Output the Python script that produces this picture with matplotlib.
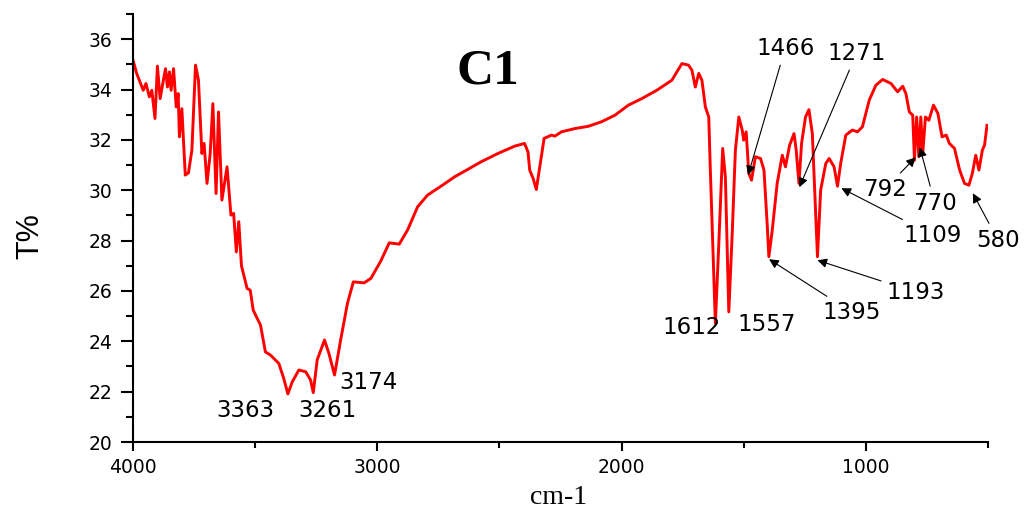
import numpy as np
import matplotlib
matplotlib.use("Agg")
import matplotlib.pyplot as plt
from matplotlib.ticker import MultipleLocator

# FTIR spectrum of C1 (wavenumber cm-1, T %)
wavenumber = [4000, 3985, 3958, 3947, 3933, 3923, 3910, 3900, 3889, 3878,
              3867, 3859, 3851, 3844, 3834, 3823, 3815, 3810, 3800, 3786,
              3773, 3759, 3744, 3732, 3718, 3709, 3697, 3684, 3673, 3660,
              3650, 3636, 3615, 3599, 3588, 3577, 3567, 3556, 3533, 3520,
              3508, 3478, 3458, 3437, 3403, 3383, 3366, 3348, 3321, 3293,
              3273, 3262, 3246, 3216, 3198, 3175, 3150, 3122, 3098, 3054,
              3026, 2985, 2951, 2910, 2876, 2835, 2794, 2739, 2684, 2629,
              2575, 2506, 2438, 2397, 2383, 2376, 2362, 2349, 2335, 2317,
              2287, 2273, 2246, 2191, 2136, 2082, 2027, 1972, 1917, 1856,
              1794, 1753, 1726, 1712, 1698, 1684, 1671, 1657, 1643, 1637,
              1616, 1603, 1586, 1575, 1561, 1547, 1534, 1520, 1506, 1500,
              1490, 1479, 1468, 1452, 1431, 1417, 1404, 1397, 1383, 1363,
              1342, 1329, 1312, 1294, 1285, 1274, 1263, 1247, 1233, 1219,
              1198, 1185, 1164, 1150, 1130, 1116, 1103, 1082, 1055, 1034,
              1014, 986, 959, 931, 897, 870, 849, 836, 822, 808,
              801, 792, 783, 775, 767, 756, 742, 723, 705, 688,
              671, 658, 637, 616, 596, 578, 564, 550, 537, 523,
              514, 504]
transmittance = [35.17, 34.64, 33.97, 34.24, 33.71, 33.97, 32.85, 34.93, 33.64, 34.24,
                 34.83, 34.10, 34.70, 33.97, 34.83, 33.31, 33.84, 32.12, 33.24, 30.60,
                 30.69, 31.59, 34.97, 34.37, 31.46, 31.86, 30.27, 31.46, 33.44, 29.87,
                 33.11, 29.61, 30.93, 29.01, 29.08, 27.55, 28.75, 27.00, 26.10, 26.03,
                 25.24, 24.64, 23.58, 23.45, 23.12, 22.53, 21.91, 22.39, 22.86, 22.79,
                 22.46, 21.96, 23.26, 24.05, 23.52, 22.66, 24.05, 25.51, 26.36, 26.32,
                 26.50, 27.20, 27.91, 27.86, 28.42, 29.34, 29.81, 30.16, 30.53, 30.83,
                 31.13, 31.46, 31.75, 31.86, 31.52, 30.80, 30.47, 30.03, 30.93, 32.06,
                 32.19, 32.15, 32.32, 32.45, 32.54, 32.72, 32.98, 33.38, 33.64, 33.97,
                 34.37, 35.03, 34.97, 34.77, 34.10, 34.64, 34.37, 33.31, 32.91, 30.93,
                 24.71, 27.62, 31.66, 30.53, 25.17, 28.28, 31.59, 32.91, 32.39, 31.99,
                 32.32, 30.67, 30.40, 31.33, 31.26, 30.80, 28.68, 27.36, 28.42, 30.27,
                 31.39, 30.93, 31.79, 32.25, 31.59, 30.27, 31.86, 32.91, 33.20, 32.25,
                 27.36, 30.00, 31.06, 31.26, 30.93, 30.16, 31.06, 32.19, 32.39, 32.32,
                 32.52, 33.58, 34.17, 34.40, 34.24, 33.91, 34.13, 33.84, 33.11, 32.98,
                 31.19, 32.91, 31.33, 32.91, 31.46, 32.91, 32.78, 33.38, 33.05, 32.12,
                 32.19, 31.86, 31.66, 30.80, 30.27, 30.20, 30.67, 31.39, 30.80, 31.59,
                 31.79, 32.58]

# peak labels without arrows: text, x, y
plain_labels = ["3363", "3261", "3174", "1612", "1557"]
plain_x = [3540, 3203, 3035, 1712, 1404]
plain_y = [21.27, 21.27, 22.38, 24.53, 24.68]

# peak labels with arrows: text, arrow head (x, y), text centre (x, y)
arrow_labels = ["1466", "1271", "1395", "1193", "1109", "792", "770", "580"]
head_x = [1482, 1272, 1396, 1198, 1100, 796, 779, 562]
head_y = [30.60, 30.12, 27.26, 27.22, 30.08, 31.31, 31.71, 29.88]
text_x = [1330, 1038, 1059, 796, 726, 923, 718, 459]
text_y = [35.64, 35.44, 25.16, 25.95, 28.22, 30.04, 29.49, 28.02]

# the numbers in the picture are wide, DejaVu Sans fits them better than Arial
sans = "DejaVu Sans"
serif = "Liberation Serif"

fig = plt.figure(figsize=(10.27, 5.13), dpi=100)
ax = fig.add_axes([0.1295, 0.1384, 0.8325, 0.8343])

ax.plot(wavenumber, transmittance, color="#ff0000", lw=2.1)

ax.set_xlim(4000, 500)
ax.set_ylim(20, 37)
ax.xaxis.set_major_locator(MultipleLocator(1000))
ax.xaxis.set_minor_locator(MultipleLocator(500))
ax.yaxis.set_major_locator(MultipleLocator(2))
ax.yaxis.set_minor_locator(MultipleLocator(1))

for side in ["top", "right"]:
    ax.spines[side].set_visible(False)
for side in ["left", "bottom"]:
    ax.spines[side].set_linewidth(1.5)

ax.tick_params(axis="y", which="major", direction="out", length=9, width=1.5, pad=6)
ax.tick_params(axis="y", which="minor", direction="out", length=5, width=1.5)
ax.tick_params(axis="x", which="major", direction="out", length=6.5, width=1.5, pad=5)
ax.tick_params(axis="x", which="minor", direction="out", length=4, width=1.5)
for lab in ax.get_xticklabels() + ax.get_yticklabels():
    lab.set_fontfamily(sans)
    lab.set_fontsize(13.5)

# axis titles placed where they sit in the picture
fig.text(30 / 1027, 1 - 236 / 513, "T%", fontfamily="Liberation Sans",
         fontsize=22, rotation=90, ha="center", va="center")
fig.text(559 / 1027, 1 - 497 / 513, "cm-1", fontfamily=serif, fontsize=20,
         ha="center", va="center")

ax.text(2546, 34.73, "C1", fontfamily=serif, fontweight="bold", fontsize=37,
        ha="center", va="center")

for i in range(len(plain_labels)):
    ax.text(plain_x[i], plain_y[i], plain_labels[i], fontfamily=sans,
            fontsize=16.5, ha="center", va="center")

for i in range(len(arrow_labels)):
    ax.annotate(arrow_labels[i], xy=(head_x[i], head_y[i]),
                xytext=(text_x[i], text_y[i]), fontfamily=sans, fontsize=16.5,
                ha="center", va="center", annotation_clip=False,
                arrowprops=dict(arrowstyle="-|>", color="black", lw=0.8,
                                mutation_scale=14, shrinkA=2, shrinkB=0))

fig.savefig("out.png", dpi=100)
